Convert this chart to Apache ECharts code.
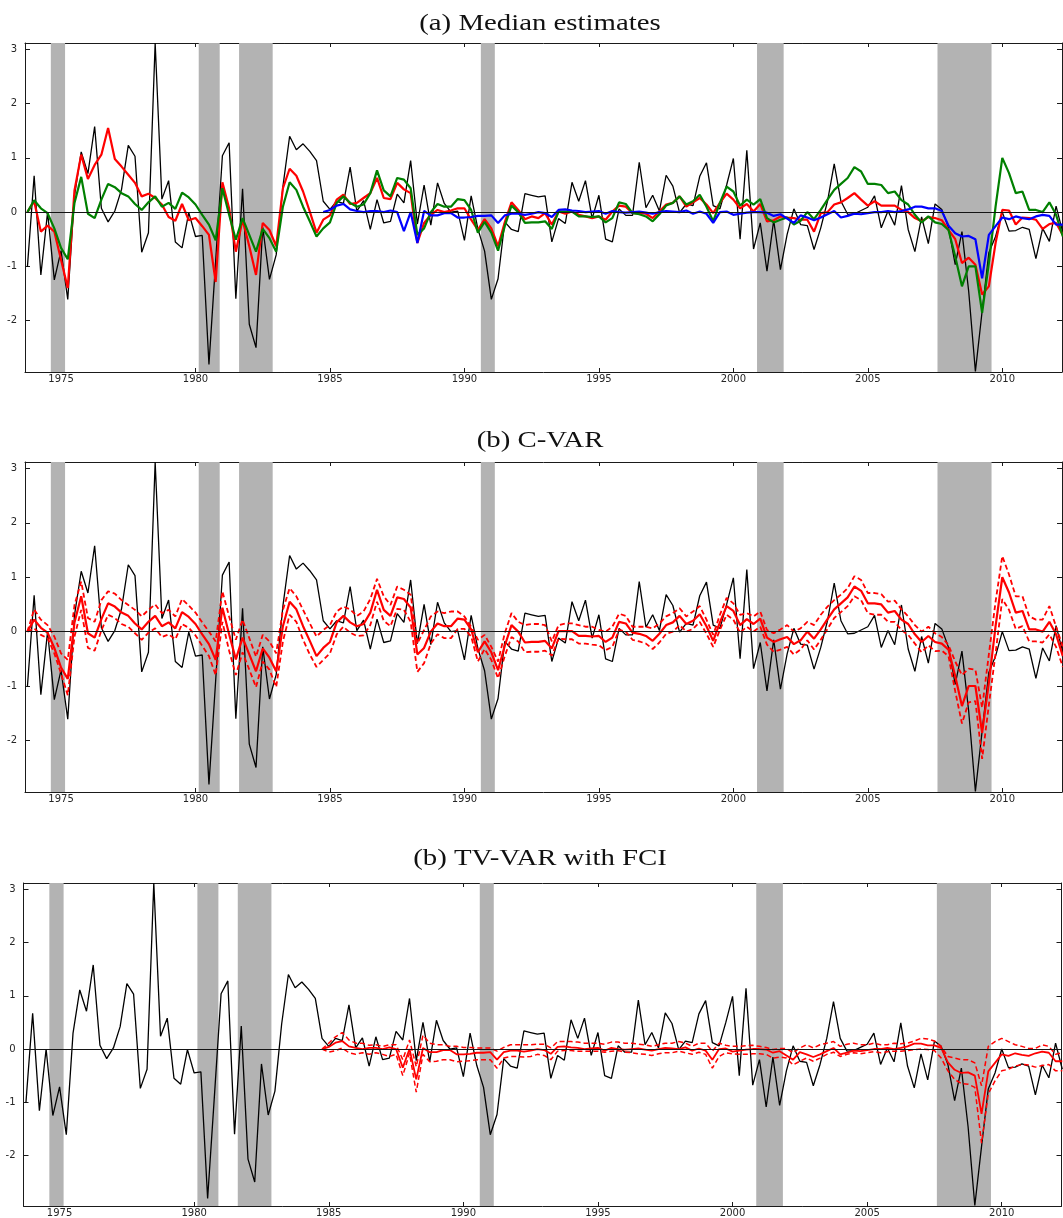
<!DOCTYPE html>
<html>
<head>
<meta charset="utf-8">
<script src="https://cdn.jsdelivr.net/npm/echarts@6/dist/echarts.min.js"></script>
<style>
  html, body { margin: 0; padding: 0; background: #ffffff; }
  #chart { width: 1063px; height: 1218px; }
</style>
</head>
<body>
<div id="chart"></div>
<script>
// Quarterly sample: first observation 1973.75, one value per quarter
const firstQuarter = 1973.75;
const yearTicks = [1975, 1980, 1985, 1990, 1995, 2000, 2005, 2010];
const valueTicks = [-2, -1, 0, 1, 2, 3];
const xMin = 1973.66, xMax = 2012.22;
const yMin = -2.95, yMax = 3.12;

// NBER recession spans (start, end) in fractional years
const recessions = [
  [1974.62, 1975.15], [1980.12, 1980.90], [1981.62, 1982.87],
  [1990.61, 1991.13], [2000.88, 2001.87], [2007.59, 2009.60]
];

// Realised series (black)
const actual = [
  -1.01, 0.67, -1.16, 0.00, -1.25, -0.71, -1.61, 0.30, 1.11, 0.71,
  1.58, 0.07, -0.18, 0.02, 0.42, 1.23, 1.03, -0.74, -0.38, 3.12,
  0.24, 0.58, -0.55, -0.66, -0.01, -0.45, -0.43, -2.81, -0.90, 1.04,
  1.28, -1.60, 0.43, -2.07, -2.50, -0.28, -1.24, -0.79, 0.47, 1.40,
  1.15, 1.26, 1.12, 0.95, 0.20, 0.05, 0.20, 0.16, 0.83, 0.02,
  0.21, -0.32, 0.23, -0.20, -0.17, 0.33, 0.17, 0.95, -0.22, 0.50,
  -0.24, 0.54, 0.16, 0.00, 0.02, -0.52, 0.30, -0.31, -0.72, -1.61,
  -1.23, -0.18, -0.32, -0.36, 0.34, 0.31, 0.28, 0.30, -0.55, -0.12,
  -0.21, 0.55, 0.20, 0.58, -0.12, 0.31, -0.50, -0.55, 0.06, -0.06,
  -0.06, 0.92, 0.08, 0.31, 0.02, 0.68, 0.48, -0.01, 0.15, 0.12,
  0.66, 0.91, 0.12, 0.06, 0.50, 0.99, -0.50, 1.14, -0.68, -0.20,
  -1.09, -0.15, -1.06, -0.41, 0.06, -0.23, -0.25, -0.69, -0.29, 0.20,
  0.89, 0.20, -0.04, -0.03, 0.03, 0.09, 0.30, -0.29, 0.02, -0.24,
  0.49, -0.32, -0.73, -0.09, -0.58, 0.15, 0.05, -0.29, -0.97, -0.36,
  -1.46, -2.94, -1.83, -0.75, -0.45, 0.00, -0.35, -0.34, -0.28, -0.32,
  -0.86, -0.30, -0.54, 0.11, -0.38
];

// TV-VAR median (red, panel a)
const tvvarMedian = [
  0.00, 0.20, -0.36, -0.25, -0.36, -0.88, -1.40, 0.40, 1.06, 0.61,
  0.87, 1.06, 1.55, 0.98, 0.84, 0.69, 0.54, 0.29, 0.34, 0.26,
  0.14, -0.09, -0.16, 0.15, -0.15, -0.11, -0.26, -0.42, -1.29, 0.55,
  0.07, -0.73, -0.14, -0.63, -1.16, -0.20, -0.33, -0.63, 0.44, 0.80,
  0.67, 0.38, 0.01, -0.38, -0.14, -0.06, 0.23, 0.32, 0.15, 0.17,
  0.26, 0.35, 0.63, 0.26, 0.24, 0.54, 0.42, 0.35, -0.57, -0.20,
  -0.05, 0.04, 0.00, 0.03, 0.07, 0.07, -0.14, -0.33, -0.13, -0.30,
  -0.63, -0.19, 0.18, 0.04, -0.13, -0.08, -0.11, -0.02, -0.23, 0.01,
  -0.03, 0.01, -0.05, -0.08, -0.11, -0.08, -0.14, 0.01, 0.12, 0.10,
  -0.02, -0.02, -0.03, -0.11, 0.01, 0.14, 0.17, 0.29, 0.10, 0.18,
  0.26, 0.14, -0.02, 0.17, 0.34, 0.23, 0.07, 0.15, 0.01, 0.15,
  -0.17, -0.15, -0.08, -0.10, -0.11, -0.14, -0.14, -0.36, -0.02, 0.00,
  0.14, 0.18, 0.26, 0.35, 0.23, 0.12, 0.20, 0.12, 0.12, 0.12,
  0.04, 0.00, -0.11, -0.17, -0.09, -0.11, -0.15, -0.33, -0.50, -0.94,
  -0.84, -0.97, -1.52, -1.37, -0.57, 0.04, 0.03, -0.23, -0.10, -0.11,
  -0.14, -0.31, -0.22, -0.20, -0.42
];

// C-VAR median with its error bands (green in panel a, red in panel b)
const cvarMedian = [
  0.00, 0.22, 0.07, -0.02, -0.30, -0.66, -0.87, 0.17, 0.65, -0.03,
  -0.11, 0.23, 0.52, 0.46, 0.35, 0.29, 0.15, 0.04, 0.18, 0.29,
  0.10, 0.17, 0.06, 0.36, 0.27, 0.14, -0.05, -0.23, -0.52, 0.44,
  -0.05, -0.51, -0.11, -0.42, -0.73, -0.31, -0.48, -0.73, 0.10, 0.55,
  0.41, 0.10, -0.17, -0.45, -0.30, -0.19, 0.17, 0.29, 0.17, 0.10,
  0.14, 0.35, 0.77, 0.40, 0.29, 0.63, 0.60, 0.44, -0.42, -0.30,
  0.00, 0.15, 0.10, 0.10, 0.24, 0.22, 0.04, -0.38, -0.18, -0.38,
  -0.71, -0.26, 0.12, 0.00, -0.20, -0.19, -0.19, -0.17, -0.31, 0.01,
  0.01, 0.01, -0.08, -0.08, -0.09, -0.08, -0.19, -0.11, 0.18, 0.15,
  -0.02, -0.04, -0.08, -0.17, -0.04, 0.12, 0.17, 0.29, 0.14, 0.20,
  0.32, 0.10, -0.17, 0.17, 0.47, 0.38, 0.12, 0.23, 0.14, 0.24,
  -0.11, -0.19, -0.14, -0.10, -0.23, -0.16, 0.00, -0.13, 0.04, 0.23,
  0.41, 0.52, 0.63, 0.83, 0.75, 0.52, 0.52, 0.50, 0.35, 0.38,
  0.22, 0.14, -0.05, -0.19, -0.08, -0.19, -0.22, -0.33, -0.82, -1.37,
  -1.00, -1.00, -1.86, -0.94, 0.10, 1.00, 0.72, 0.35, 0.38, 0.04,
  0.04, 0.00, 0.18, -0.05, -0.45
];
const cvarUpper = [
  0.00, 0.41, 0.22, 0.12, -0.09, -0.40, -0.52, 0.49, 0.92, 0.25,
  0.18, 0.58, 0.74, 0.70, 0.58, 0.49, 0.40, 0.28, 0.40, 0.50,
  0.34, 0.40, 0.28, 0.60, 0.48, 0.35, 0.17, 0.00, -0.18, 0.74,
  0.28, -0.15, 0.22, -0.12, -0.46, -0.06, -0.18, -0.40, 0.40, 0.80,
  0.65, 0.40, 0.15, -0.09, 0.03, 0.12, 0.37, 0.46, 0.41, 0.29,
  0.37, 0.60, 0.97, 0.65, 0.49, 0.83, 0.77, 0.68, -0.22, 0.03,
  0.28, 0.37, 0.34, 0.37, 0.37, 0.28, 0.09, -0.15, -0.06, -0.28,
  -0.55, -0.03, 0.34, 0.18, 0.12, 0.14, 0.14, 0.12, -0.18, 0.12,
  0.15, 0.15, 0.12, 0.09, 0.09, 0.03, 0.00, 0.09, 0.33, 0.29,
  0.09, 0.09, 0.09, 0.06, 0.15, 0.28, 0.34, 0.43, 0.28, 0.37,
  0.47, 0.22, -0.06, 0.31, 0.62, 0.52, 0.31, 0.34, 0.28, 0.37,
  0.03, -0.03, 0.04, 0.12, 0.00, 0.06, 0.18, 0.12, 0.31, 0.46,
  0.58, 0.68, 0.80, 1.02, 0.95, 0.71, 0.71, 0.69, 0.55, 0.57,
  0.41, 0.28, 0.12, 0.00, 0.09, -0.03, -0.10, -0.25, -0.55, -0.80,
  -0.68, -0.70, -1.40, -0.42, 0.55, 1.39, 1.05, 0.65, 0.65, 0.28,
  0.22, 0.22, 0.47, 0.09, -0.28
];
const cvarLower = [
  0.00, 0.06, -0.06, -0.12, -0.40, -0.77, -1.17, -0.09, 0.40, -0.30,
  -0.35, 0.02, 0.31, 0.25, 0.14, 0.09, -0.03, -0.15, -0.02, 0.06,
  -0.10, -0.05, -0.14, 0.14, 0.07, -0.07, -0.26, -0.45, -0.80, 0.18,
  -0.35, -0.80, -0.38, -0.70, -1.02, -0.55, -0.70, -1.02, -0.18, 0.31,
  0.18, -0.15, -0.42, -0.65, -0.52, -0.40, -0.05, 0.09, -0.02, -0.08,
  -0.07, 0.12, 0.55, 0.20, 0.10, 0.42, 0.40, 0.18, -0.74, -0.58,
  -0.22, -0.05, -0.12, -0.12, 0.05, 0.05, -0.09, -0.55, -0.32, -0.52,
  -0.86, -0.45, -0.10, -0.18, -0.38, -0.37, -0.37, -0.35, -0.44, -0.13,
  -0.14, -0.14, -0.22, -0.22, -0.24, -0.25, -0.34, -0.28, 0.03, 0.00,
  -0.15, -0.18, -0.22, -0.32, -0.20, -0.04, 0.00, 0.12, 0.00, 0.05,
  0.18, -0.04, -0.28, 0.03, 0.31, 0.22, -0.02, 0.09, 0.00, 0.09,
  -0.24, -0.37, -0.33, -0.28, -0.42, -0.33, -0.16, -0.33, -0.15, 0.05,
  0.25, 0.36, 0.47, 0.65, 0.58, 0.34, 0.31, 0.31, 0.18, 0.18,
  0.03, -0.06, -0.22, -0.38, -0.25, -0.36, -0.35, -0.45, -1.10, -1.69,
  -1.30, -1.28, -2.34, -1.35, -0.40, 0.60, 0.40, 0.05, 0.10, -0.18,
  -0.18, -0.20, -0.05, -0.28, -0.65
];

// TV-VAR with FCI: estimates start at quarter index 44 (1984.75)
const fciStart = 44;
const fciMedian = [
  0.00, 0.04, 0.12, 0.15, 0.05, 0.02, 0.00, 0.02, 0.02, 0.00,
  0.03, 0.00, -0.35, 0.00, -0.57, 0.02, -0.06, -0.06, -0.02, -0.02,
  -0.10, -0.10, -0.09, -0.07, -0.07, -0.06, -0.20, -0.06, -0.03, -0.03,
  -0.05, -0.03, 0.00, -0.02, -0.09, 0.04, 0.05, 0.03, 0.02, 0.00,
  0.01, 0.02, -0.03, 0.02, 0.00, -0.01, 0.00, 0.01, -0.01, -0.03,
  0.00, 0.02, 0.01, 0.00, 0.03, -0.03, 0.01, -0.03, -0.20, 0.00,
  0.01, -0.05, -0.03, -0.01, 0.00, 0.00, -0.01, -0.07, -0.04, -0.12,
  -0.20, -0.06, -0.10, -0.15, -0.10, -0.04, 0.02, -0.10, -0.07, -0.03,
  -0.04, -0.02, 0.00, 0.00, 0.02, 0.00, 0.02, 0.05, 0.10, 0.10,
  0.07, 0.07, 0.02, -0.25, -0.39, -0.45, -0.44, -0.50, -1.22, -0.42,
  -0.26, -0.10, -0.13, -0.08, -0.11, -0.13, -0.08, -0.05, -0.07, -0.23,
  -0.23
];
const fciUpper = [
  0.00, 0.11, 0.23, 0.31, 0.17, 0.11, 0.11, 0.07, 0.08, 0.05,
  0.08, 0.08, -0.20, 0.17, -0.33, 0.26, 0.11, 0.08, 0.08, 0.05,
  0.05, 0.03, 0.03, 0.02, 0.02, 0.02, -0.04, 0.03, 0.08, 0.08,
  0.08, 0.08, 0.09, 0.09, 0.02, 0.14, 0.14, 0.14, 0.13, 0.11,
  0.11, 0.11, 0.09, 0.13, 0.13, 0.11, 0.11, 0.09, 0.08, 0.05,
  0.08, 0.11, 0.11, 0.14, 0.11, 0.05, 0.11, 0.11, -0.04, 0.11,
  0.07, 0.05, 0.05, 0.06, 0.07, 0.05, 0.03, -0.01, 0.01, 0.01,
  -0.07, 0.02, 0.08, 0.02, 0.08, 0.11, 0.14, 0.05, 0.09, 0.11,
  0.08, 0.08, 0.11, 0.08, 0.08, 0.11, 0.10, 0.11, 0.15, 0.20,
  0.19, 0.15, 0.05, -0.14, -0.17, -0.20, -0.20, -0.26, -0.69, 0.05,
  0.14, 0.20, 0.14, 0.08, 0.05, 0.01, 0.01, 0.08, 0.05, -0.10,
  -0.07
];
const fciLower = [
  0.00, -0.06, -0.03, 0.02, -0.07, -0.10, -0.07, -0.10, -0.07, -0.10,
  -0.14, -0.10, -0.50, -0.08, -0.81, -0.10, -0.24, -0.23, -0.20, -0.20,
  -0.24, -0.23, -0.22, -0.20, -0.20, -0.20, -0.36, -0.17, -0.14, -0.14,
  -0.15, -0.14, -0.10, -0.12, -0.20, -0.04, -0.03, -0.03, -0.04, -0.04,
  -0.04, -0.04, -0.06, -0.04, -0.03, -0.06, -0.07, -0.09, -0.10, -0.12,
  -0.09, -0.07, -0.07, -0.04, -0.07, -0.10, -0.06, -0.10, -0.36, -0.14,
  -0.07, -0.09, -0.10, -0.10, -0.09, -0.09, -0.10, -0.17, -0.15, -0.17,
  -0.30, -0.23, -0.17, -0.23, -0.17, -0.10, -0.06, -0.14, -0.10, -0.07,
  -0.09, -0.07, -0.05, -0.07, -0.05, -0.04, -0.04, -0.03, -0.01, 0.00,
  -0.01, -0.03, -0.17, -0.41, -0.57, -0.65, -0.66, -0.72, -1.77, -0.84,
  -0.60, -0.41, -0.38, -0.32, -0.29, -0.30, -0.34, -0.31, -0.29, -0.41,
  -0.41
];

// Quarter dates and [date, value] pairs for the value x-axis
const dates = actual.map((_, i) => firstQuarter + i / 4);
const pairs = (vals, offset) => vals.map((v, i) => [dates[i + (offset || 0)], v]);

const panels = [
  { title: '(a) Median estimates', titleY: 24, left: 25, top: 43, width: 1037, height: 329 },
  { title: '(b) C-VAR', titleY: 441, left: 25, top: 462, width: 1037, height: 330 },
  { title: '(b) TV-VAR with FCI', titleY: 859, left: 23.5, top: 883, width: 1038, height: 327 }
];

const RED = '#ff0000', GREEN = '#008000', BLUE = '#0000ff', BLACK = '#000000';
const frame = '#1a1a1a';
const labelStyle = { fontSize: 10, fontFamily: 'DejaVu Sans', color: '#262626' };

const grid = [], xAxis = [], yAxis = [], series = [], graphic = [];

panels.forEach((p, k) => {
  grid.push({ left: p.left, top: p.top, width: p.width, height: p.height });
  // panel heading, in a wide serif face
  graphic.push({
    type: 'text', x: 540, y: p.titleY, scaleX: 1.2,
    style: {
      text: p.title, font: '24px "Liberation Serif", serif', fill: '#111111',
      textAlign: 'center', textVerticalAlign: 'middle'
    }
  });
  ['bottom', 'top'].forEach((pos, j) => xAxis.push({
    type: 'value', gridIndex: k, position: pos, min: xMin, max: xMax,
    axisLine: { show: true, onZero: false, lineStyle: { color: frame, width: 1 } },
    splitLine: { show: false },
    axisTick: { show: true, inside: true, length: 4, customValues: yearTicks, lineStyle: { color: frame } },
    axisLabel: Object.assign({
      show: j === 0, customValues: yearTicks, margin: 2,
      formatter: v => String(Math.round(v))
    }, labelStyle)
  }));
  ['left', 'right'].forEach((pos, j) => yAxis.push({
    type: 'value', gridIndex: k, position: pos, min: yMin, max: yMax,
    axisLine: { show: true, onZero: false, lineStyle: { color: frame, width: 1 } },
    splitLine: { show: false },
    axisTick: { show: true, inside: true, length: 5, customValues: valueTicks, lineStyle: { color: frame } },
    axisLabel: Object.assign({
      show: j === 0, customValues: valueTicks, margin: 8,
      formatter: v => String(Math.round(v))
    }, labelStyle)
  }));

  const base = { type: 'line', xAxisIndex: 2 * k, yAxisIndex: 2 * k, symbol: 'none', silent: true, animation: false };

  // realised series, with recession shading and the zero line
  series.push(Object.assign({}, base, {
    name: 'actual-' + k,
    data: pairs(actual),
    lineStyle: { color: BLACK, width: 1.3 },
    markArea: {
      silent: true,
      itemStyle: { color: '#b3b3b3' },
      data: recessions.map(([a, b]) => [{ xAxis: a }, { xAxis: b }])
    },
    markLine: {
      silent: true, symbol: ['none', 'none'], label: { show: false },
      lineStyle: { color: '#141414', width: 1.2, type: 'solid' },
      data: [{ yAxis: 0 }]
    }
  }));

  if (k === 0) {
    series.push(Object.assign({}, base, { data: pairs(tvvarMedian), lineStyle: { color: RED, width: 2.2 } }));
    series.push(Object.assign({}, base, { data: pairs(cvarMedian), lineStyle: { color: GREEN, width: 2.2 } }));
    series.push(Object.assign({}, base, { data: pairs(fciMedian, fciStart), lineStyle: { color: BLUE, width: 2.2 } }));
  } else if (k === 1) {
    series.push(Object.assign({}, base, { data: pairs(cvarUpper), lineStyle: { color: RED, width: 1.8, type: [5, 3] } }));
    series.push(Object.assign({}, base, { data: pairs(cvarLower), lineStyle: { color: RED, width: 1.8, type: [5, 3] } }));
    series.push(Object.assign({}, base, { data: pairs(cvarMedian), lineStyle: { color: RED, width: 2.2 } }));
  } else {
    series.push(Object.assign({}, base, { data: pairs(fciUpper, fciStart), lineStyle: { color: RED, width: 1.5, type: [5, 3] } }));
    series.push(Object.assign({}, base, { data: pairs(fciLower, fciStart), lineStyle: { color: RED, width: 1.5, type: [5, 3] } }));
    series.push(Object.assign({}, base, { data: pairs(fciMedian, fciStart), lineStyle: { color: RED, width: 1.8 } }));
  }
});

const chart = echarts.init(document.getElementById('chart'), null, { renderer: 'canvas' });
chart.setOption({
  animation: false,
  backgroundColor: '#ffffff',
  grid, xAxis, yAxis, series, graphic
});
</script>
</body>
</html>
